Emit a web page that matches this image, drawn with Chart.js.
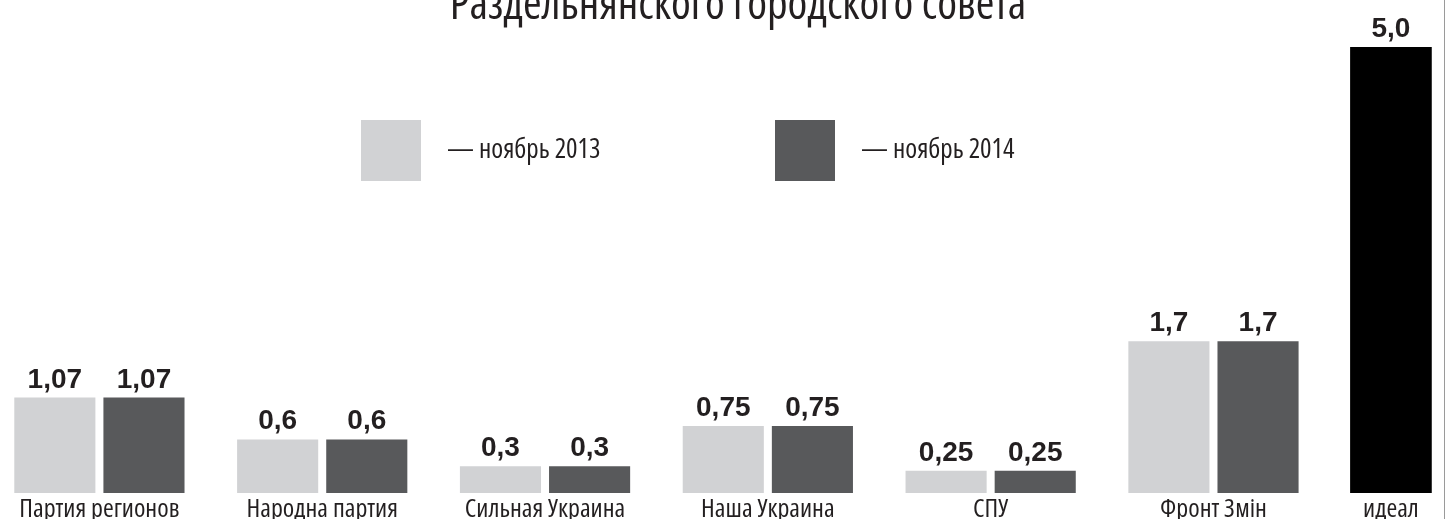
<!DOCTYPE html>
<html>
<head>
<meta charset="utf-8">
<script src="https://cdn.jsdelivr.net/npm/chart.js@4.4.1/dist/chart.umd.min.js"></script>
<style>
  html, body { margin: 0; padding: 0; background: #fff; overflow: hidden; }
  body { width: 1448px; height: 519px; position: relative; }
  #wrap { position: absolute; left: -52px; top: 0; width: 1540px; height: 527px; }
  #frame { position: absolute; left: 1444px; top: 0; width: 0; height: 519px; border-left: 1px solid #9a9a9a; }
</style>
</head>
<body>
<div id="wrap"><canvas id="myChart"></canvas></div>
<div id="frame"></div>
<script>
const parties = ['Партия регионов', 'Народна партия', 'Сильная Украина', 'Наша Украина', 'СПУ', 'Фронт Змін'];
const nov2013 = [1.07, 0.6, 0.3, 0.75, 0.25, 1.7];
const nov2014 = [1.07, 0.6, 0.3, 0.75, 0.25, 1.7];
const idealLabels = ['идеал'];
const idealValues = [5.0];
const seriesNames = ['ноябрь 2013', 'ноябрь 2014', 'идеал'];

// Open Sans has a condensed width, close to the original Myriad Condensed
const condensed = '"Open Sans", sans-serif';
const ink = '#231f20';

// 1,07 / 0,6 / 5,0 - comma decimals, at least one digit after it
function fmt(v) {
    let s = String(v);
    if (s.indexOf('.') < 0) s += '.0';
    return s.replace('.', ',');
}

// value above every bar
const valueLabels = {
    id: 'valueLabels',
    afterDatasetsDraw(chart) {
        const ctx = chart.ctx;
        ctx.save();
        ctx.font = 'bold 28px "Liberation Sans", Arial, sans-serif';
        ctx.fillStyle = ink;
        ctx.textAlign = 'center';
        ctx.textBaseline = 'alphabetic';
        chart.data.datasets.forEach((ds, i) => {
            chart.getDatasetMeta(i).data.forEach((bar, j) => {
                if (ds.data[j] == null) return;
                ctx.fillText(fmt(ds.data[j]), bar.x, bar.y - 10);
            });
        });
        ctx.restore();
    }
};

// legend boxes floating in the empty part of the chart
const pairLegend = {
    id: 'pairLegend',
    afterDraw(chart, args, opts) {
        const ctx = chart.ctx;
        ctx.save();
        ctx.font = 'condensed 27px ' + condensed;
        ctx.textBaseline = 'middle';
        ctx.textAlign = 'left';
        opts.x.forEach((x, i) => {
            const ds = chart.data.datasets[i];
            ctx.fillStyle = ds.backgroundColor;
            ctx.fillRect(x, opts.y, opts.boxW, opts.boxH);
            ctx.fillStyle = ink;
            ctx.fillText('— ' + ds.label, x + opts.boxW + opts.gap, opts.y + opts.boxH / 2);
        });
        ctx.restore();
    }
};

const xTicks = {
    color: ink,
    font: { family: condensed, size: 26, weight: 'condensed', lineHeight: 1 },
    padding: 4,
    autoSkip: false,
    maxRotation: 0
};

const ctx = document.getElementById('myChart').getContext('2d');
const myChart = new Chart(ctx, {
    type: 'bar',
    data: {
        datasets: [{
            label: seriesNames[0],
            data: nov2013,
            indexAxis: 'x',
            xAxisID: 'x',
            backgroundColor: '#d1d2d4',
            categoryPercentage: 0.8,
            barPercentage: 0.91
        }, {
            label: seriesNames[1],
            data: nov2014,
            indexAxis: 'x',
            xAxisID: 'x',
            backgroundColor: '#58595b',
            categoryPercentage: 0.8,
            barPercentage: 0.91
        }, {
            label: seriesNames[2],
            data: idealValues,
            indexAxis: 'x',
            xAxisID: 'xi',
            backgroundColor: '#000000',
            barThickness: 81
        }]
    },
    options: {
        // bars stay vertical per dataset; chart-level 'y' keeps v4.5 from
        // splitting each category between the two x axes
        indexAxis: 'y',
        responsive: true,
        maintainAspectRatio: false,
        animation: false,
        layout: { padding: { left: 40 } },
        plugins: {
            legend: { display: false },
            tooltip: { enabled: false },
            title: {
                display: true,
                text: 'Раздельнянского городского совета',
                color: ink,
                font: { family: condensed, size: 45, weight: 'condensed', lineHeight: 1 },
                padding: { top: -16, bottom: 18 }
            },
            pairLegend: { x: [413, 827], y: 120, boxW: 60, boxH: 61, gap: 26 }
        },
        scales: {
            x: {
                type: 'category',
                axis: 'x',
                labels: parties,
                position: 'bottom',
                stack: 'bottom',
                stackWeight: 6,
                offset: true,
                grid: { display: false, drawTicks: false },
                border: { display: false },
                ticks: xTicks
            },
            xi: {
                type: 'category',
                axis: 'x',
                labels: idealLabels,
                position: 'bottom',
                stack: 'bottom',
                stackWeight: 0.593,
                offset: true,
                grid: { display: false, drawTicks: false },
                border: { display: false },
                ticks: xTicks
            },
            y: {
                type: 'linear',
                axis: 'y',
                display: false,
                offset: false,
                min: 0,
                max: 5
            },
            // empty strip on the right, so the title sits a bit right of the plot centre
            pad: {
                type: 'linear',
                axis: 'y',
                position: 'right',
                grid: { display: false, drawTicks: false },
                border: { display: false },
                ticks: { display: false },
                afterFit(scale) { scale.width = 31; }
            }
        }
    },
    plugins: [valueLabels, pairLegend]
});
</script>
</body>
</html>
